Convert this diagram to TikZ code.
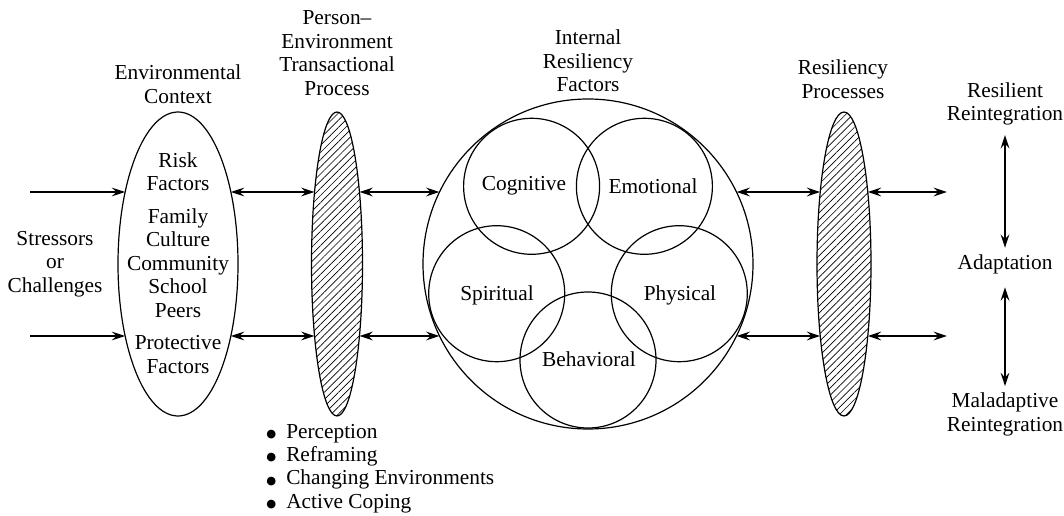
\documentclass[tikz,border=0pt]{standalone}
\usepackage{fontspec}
\setmainfont{Liberation Serif}
\newfontfamily\dejavu{DejaVu Sans}
\usetikzlibrary{shapes.geometric,arrows.meta,patterns.meta}
\newcommand{\blt}{\makebox[15pt][l]{\raisebox{0.6pt}{\dejavu\fontsize{8.5}{9}\selectfont ●}}}
\begin{document}
\begin{tikzpicture}[x=0.75pt,y=-0.75pt,
  lbl/.style={inner sep=0pt, align=center, font=\fontsize{16}{17.6}\selectfont},
  oval/.style={draw, ellipse, inner sep=0pt, outer sep=0pt, line width=0.9pt},
  hatch/.style={oval, pattern={Lines[angle=45,distance=3.8pt,line width=0.5pt]}},
  circ/.style={draw, circle, inner sep=0pt, outer sep=0pt, line width=0.9pt, minimum size=102pt},
  tip/.tip={Stealth[length=10pt,width=6.5pt,inset=3.5pt]},
  arr/.style={line width=1.4pt, -tip},
  dbl/.style={line width=1.4pt, tip-tip},
]
\path[use as bounding box] (0,0) rectangle (1064,516);

% main shapes
\node[oval, minimum width=90pt, minimum height=228pt] (env) at (178,264) {};
\node[hatch, minimum width=38.25pt, minimum height=228pt] (h1) at (337,264) {};
\node[hatch, minimum width=40.5pt, minimum height=228pt] (h2) at (844,264) {};
\node[circ, minimum size=247.5pt] (big) at (588,264) {};

\node[circ] (cog) at (531.6,186.3) {};
\node[circ] (emo) at (644.4,186.3) {};
\node[circ] (spi) at (496.7,293.7) {};
\node[circ] (phy) at (679.3,293.7) {};
\node[circ] (beh) at (588,360) {};

\node[lbl] (cogl) at (524,186) {Cognitive};
\node[lbl] (emol) at (653,186) {Emotional};
\node[lbl] (spil) at (497,295) {Spiritual};
\node[lbl] (phyl) at (680,295) {Physical};
\node[lbl] (behl) at (589,359) {Behavioral};

% texts
\node[lbl] (stress) at (55,264) {Stressors\\or\\Challenges};
\node[lbl] (envt) at (178,84) {Environmental\\Context};
\node[lbl] (pet) at (337,53) {Person--\\Environment\\Transactional\\Process};
\node[lbl] (irf) at (588,61) {Internal\\Resiliency\\Factors};
\node[lbl] (rpt) at (843,79) {Resiliency\\Processes};
\node[lbl] (risk) at (178,171.5) {Risk\\Factors};
\node[lbl] (fam) at (178,263) {Family\\Culture\\Community\\School\\Peers};
\node[lbl] (prot) at (178,354.5) {Protective\\Factors};
\node[lbl] (res) at (1005,104) {Resilient\\Reintegration};
\node[lbl] (adapt) at (1005,264) {Adaptation};
\node[lbl] (mal) at (1005,414.5) {Maladaptive\\Reintegration};
\node[lbl, align=left, anchor=west] (list) at (266,468.5)
  {\blt Perception\\
   \blt Reframing\\
   \blt Changing Environments\\
   \blt Active Coping};

% connectors
\coordinate (s1) at (30,192);
\coordinate (s2) at (30,336);
\coordinate (e1) at (947,192);
\coordinate (e2) at (947,336);

\draw[arr] (s1) -- ([shift={(-52.84,-72)}]env.center);
\draw[arr] (s2) -- ([shift={(-52.84,72)}]env.center);
\draw[dbl] ([shift={(52.84,-72)}]env.center) -- ([shift={(-22.46,-72)}]h1.center);
\draw[dbl] ([shift={(52.84,72)}]env.center) -- ([shift={(-22.46,72)}]h1.center);
\draw[dbl] ([shift={(22.46,-72)}]h1.center) -- ([shift={(-148.5,-72)}]big.center);
\draw[dbl] ([shift={(22.46,72)}]h1.center) -- ([shift={(-148.5,72)}]big.center);
\draw[dbl] ([shift={(148.5,-72)}]big.center) -- ([shift={(-23.78,-72)}]h2.center);
\draw[dbl] ([shift={(148.5,72)}]big.center) -- ([shift={(-23.78,72)}]h2.center);
\draw[dbl] ([shift={(23.78,-72)}]h2.center) -- (e1);
\draw[dbl] ([shift={(23.78,72)}]h2.center) -- (e2);

\draw[dbl, shorten <=7pt, shorten >=4.7pt] (res.south) -- (adapt.north);
\draw[dbl, shorten <=10pt, shorten >=5pt] (adapt.south) -- (mal.north);
\end{tikzpicture}
\end{document}
